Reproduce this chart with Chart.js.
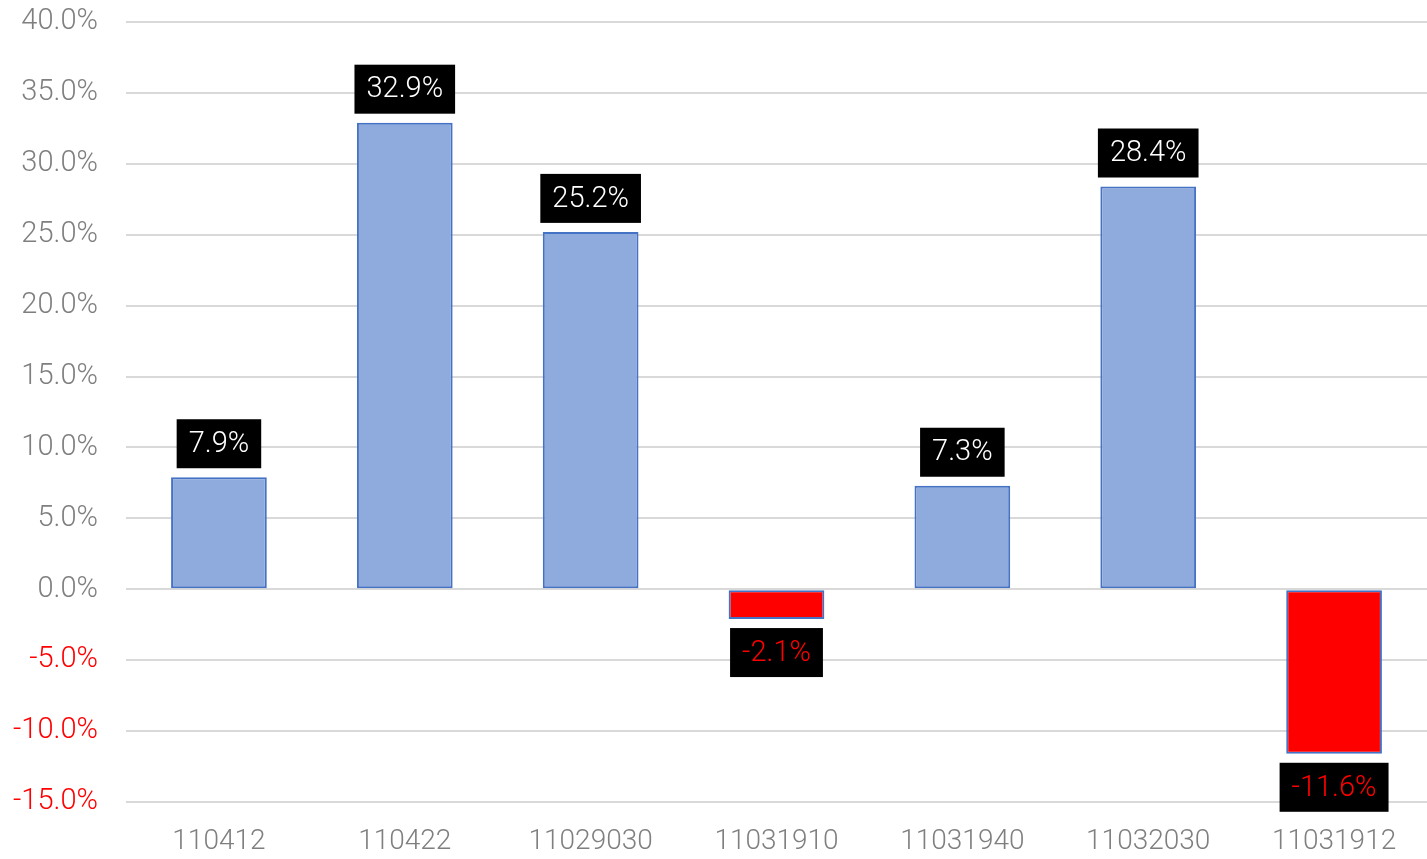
<!DOCTYPE html>
<html>
<head>
<meta charset="utf-8">
<script src="https://cdn.jsdelivr.net/npm/chart.js@4/dist/chart.umd.min.js"></script>
<style>
  html, body { margin: 0; padding: 0; background: #ffffff; }
  #wrap { width: 1427px; height: 859px; }
</style>
</head>
<body>
<div id="wrap"><canvas id="c" width="1427" height="859"></canvas></div>
<script>
// Category codes and their returns (%)
const categories = ['110412', '110422', '11029030', '11031910', '11031940', '11032030', '11031912'];
const returns = [7.9, 32.9, 25.2, -2.1, 7.3, 28.4, -11.6];
const yTicks = [40, 35, 30, 25, 20, 15, 10, 5, 0, -5, -10, -15];

const POS_FILL = '#8FAADC';
const NEG_FILL = '#FF0000';
const EDGE = '#4472C4';
const GREY = '#7F7F7F';
const FONT = '"Roboto", "Liberation Sans", sans-serif';

// Black value boxes above positive bars and below negative bars
const valueBoxes = {
  id: 'valueBoxes',
  afterDatasetsDraw(chart) {
    const ctx = chart.ctx;
    const meta = chart.getDatasetMeta(0);
    ctx.save();
    ctx.font = '300 29px ' + FONT;
    ctx.textAlign = 'center';
    ctx.textBaseline = 'middle';
    meta.data.forEach((bar, i) => {
      const v = returns[i];
      const text = v.toFixed(1) + '%';
      const w = ctx.measureText(text).width + 24;
      const h = 49;
      const gap = 9;
      const top = v >= 0 ? bar.y - gap - h : bar.y + gap;
      ctx.fillStyle = '#000000';
      ctx.fillRect(bar.x - w / 2, top, w, h);
      ctx.fillStyle = v >= 0 ? '#FFFFFF' : '#FF0000';
      ctx.fillText(text, bar.x, top + h / 2 + 1);
    });
    ctx.restore();
  }
};

new Chart(document.getElementById('c'), {
  type: 'bar',
  data: {
    labels: categories,
    datasets: [{
      data: returns,
      backgroundColor: returns.map(v => v < 0 ? NEG_FILL : POS_FILL),
      borderColor: EDGE,
      borderWidth: 2,
      borderSkipped: false,
      categoryPercentage: 1.0,
      barPercentage: 0.515
    }]
  },
  options: {
    responsive: false,
    animation: false,
    layout: { padding: { top: 22, right: 0, bottom: 0, left: 0 } },
    plugins: { legend: { display: false }, tooltip: { enabled: false } },
    scales: {
      x: {
        grid: { display: false, drawTicks: false },
        border: { display: false },
        afterFit(axis) { axis.height = 57; axis.paddingLeft = 0; axis.paddingRight = 0; },
        ticks: { color: GREY, font: { family: FONT, size: 28, weight: '300' }, padding: 23, maxRotation: 0 }
      },
      y: {
        min: -15,
        max: 40,
        afterBuildTicks(axis) { axis.ticks = yTicks.map(v => ({ value: v })); },
        afterFit(axis) { axis.width = 126; axis.paddingTop = 0; axis.paddingBottom = 0; },
        grid: { color: '#D9D9D9', lineWidth: 2, drawTicks: false },
        border: { display: false },
        ticks: {
          padding: 28,
          font: { family: FONT, size: 29, weight: '300' },
          color: ctx => ctx.tick.value < 0 ? '#FF0000' : GREY,
          callback: v => v.toFixed(1) + '%'
        }
      }
    }
  },
  plugins: [valueBoxes]
});
</script>
</body>
</html>
